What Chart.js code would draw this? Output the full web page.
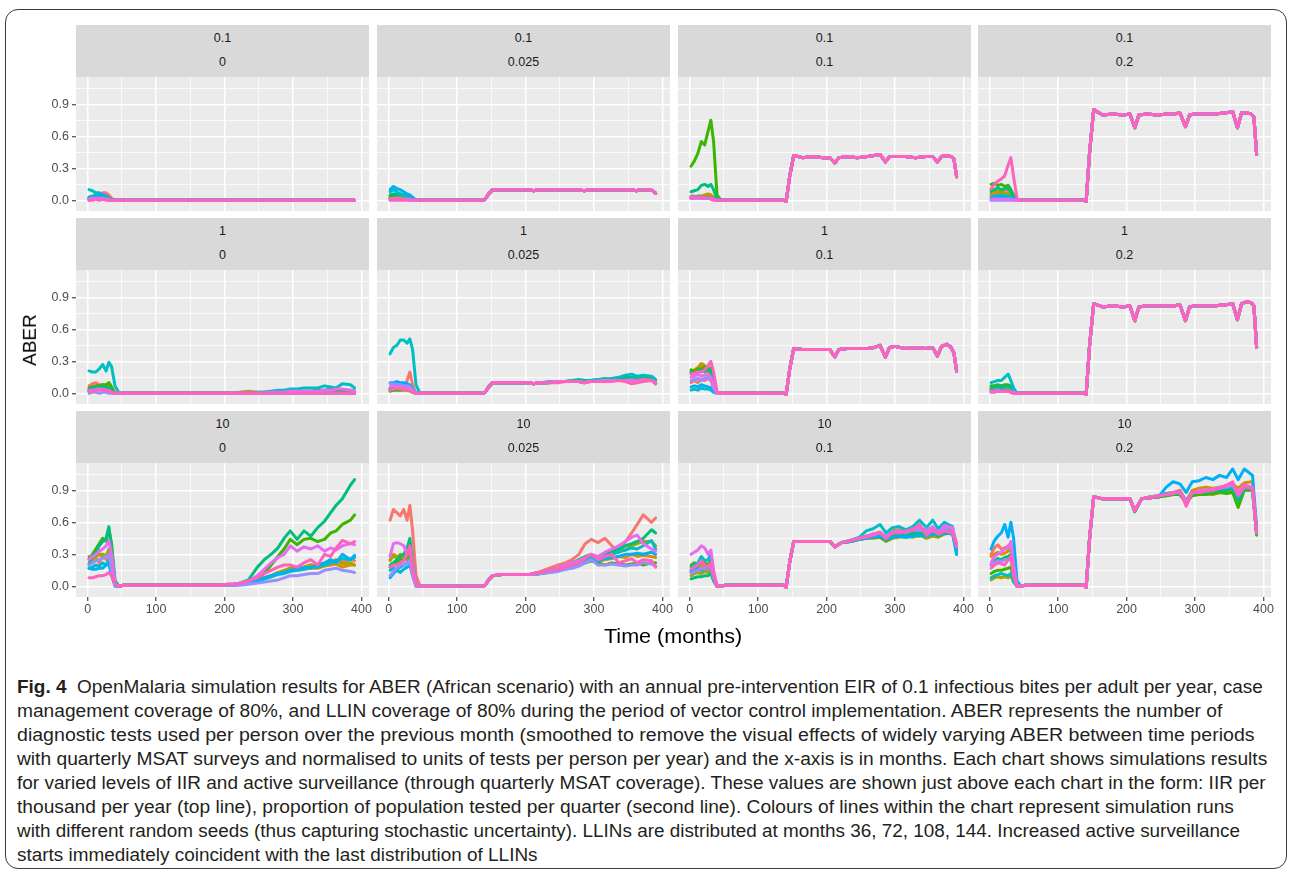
<!DOCTYPE html>
<html>
<head>
<meta charset="utf-8">
<script src="https://cdn.jsdelivr.net/npm/chart.js@4.4.0/dist/chart.umd.min.js"></script>
<style>
  body { margin: 0; background: #fff; width: 1290px; height: 873px; overflow: hidden; position: relative;
         font-family: "Liberation Sans", Arial, sans-serif; }
  #frame { position: absolute; left: 5px; top: 9px; width: 1280px; height: 858px;
           border: 1.4px solid #3c3c3c; border-radius: 13px; }
  .strip { position: absolute; background: #d9d9d9; color: #1a1a1a; font-size: 12.5px; }
  .strip div { position: absolute; left: 0; right: 0; text-align: center; line-height: 14px; }
  canvas.panel { position: absolute; }
  .axtitle { position: absolute; font-size: 19px; color: #000; white-space: nowrap; }
  .cap { position: absolute; left: 17px; font-size: 17.5px; color: #231f20; white-space: nowrap;
         line-height: 20px; transform-origin: 0 50%; }
</style>
</head>
<body>
<div id="frame"></div>
<div id="figure"></div>
<script>
// ggplot hue palette, one colour per random seed
const seedColors = ["#F8766D", "#D89000", "#A3A500", "#39B600", "#00BF7D",
                    "#00BFC4", "#00B0F6", "#9590FF", "#E76BF3", "#FF62BC"];
const iirLevels = ["0.1", "1", "10"];
const msatLevels = ["0", "0.025", "0.1", "0.2"];
const xTicks = [0, 100, 200, 300, 400];
const yTicks = [0.0, 0.3, 0.6, 0.9];

// months sampled for each phase
const earlyMonths = [2, 7, 12, 17, 22, 27, 31, 35, 40, 46];
const mainMonths = [52, 100, 138, 141, 146, 152, 165, 180, 195, 205, 212, 218, 230, 245, 260,
                    270, 278, 286, 292, 300, 315, 330, 345, 355, 362, 368, 376, 382, 386, 390];
const lateMonths = [205, 212, 222, 235, 248, 258, 268, 278, 287, 296, 306, 316, 326, 336, 346,
                    355, 363, 372, 384, 390];

// ---- IIR 0.1 ----
const earlyR1C1 = [
  [0.02, 0.03, 0.04, 0.05, 0.07, 0.07, 0.05, 0.02, 0, 0],
  [0.01, 0.02, 0.02, 0.03, 0.04, 0.04, 0.03, 0.01, 0, 0],
  [0.01, 0.01, 0.02, 0.02, 0.03, 0.02, 0.02, 0.01, 0, 0],
  [0.02, 0.02, 0.03, 0.03, 0.02, 0.02, 0.01, 0, 0, 0],
  [0.03, 0.04, 0.05, 0.04, 0.05, 0.03, 0.02, 0.01, 0, 0],
  [0.1, 0.09, 0.07, 0.07, 0.05, 0.04, 0.02, 0.01, 0, 0],
  [0.03, 0.03, 0.04, 0.06, 0.05, 0.04, 0.02, 0, 0, 0],
  [0, 0.01, 0.01, 0.01, 0.01, 0.01, 0, 0, 0, 0],
  [0.01, 0.02, 0.02, 0.02, 0.02, 0.01, 0.01, 0, 0, 0],
  [0, 0, 0.01, 0, 0.01, 0, 0, 0, 0, 0]
];
const mainR1C1 = [0, 0, 0, 0, 0, 0, 0, 0, 0, 0, 0, 0, 0, 0, 0,
                  0, 0, 0, 0, 0, 0, 0, 0, 0, 0, 0, 0, 0, 0, 0];

const earlyR1C2 = [
  [0.02, 0.03, 0.02, 0.03, 0.03, 0.02, 0.01, 0, 0, 0],
  [0.03, 0.03, 0.04, 0.03, 0.03, 0.02, 0.02, 0.01, 0, 0],
  [0.02, 0.03, 0.03, 0.03, 0.02, 0.02, 0.01, 0, 0, 0],
  [0.04, 0.05, 0.05, 0.06, 0.05, 0.04, 0.04, 0.01, 0, 0],
  [0.05, 0.06, 0.06, 0.05, 0.05, 0.05, 0.04, 0.02, 0, 0],
  [0.08, 0.1, 0.08, 0.06, 0.05, 0.04, 0.03, 0.01, 0, 0],
  [0.1, 0.13, 0.11, 0.1, 0.08, 0.06, 0.05, 0.03, 0, 0],
  [0.01, 0.01, 0.01, 0.01, 0.01, 0.01, 0, 0, 0, 0],
  [0.01, 0.02, 0.02, 0.01, 0.01, 0.01, 0.01, 0, 0, 0],
  [0, 0, 0, 0, 0, 0, 0, 0, 0, 0]
];
const mainR1C2 = [0, 0, 0, 0.01, 0.06, 0.1, 0.1, 0.1, 0.1, 0.1, 0.09, 0.1, 0.1, 0.1, 0.1,
                  0.1, 0.1, 0.09, 0.1, 0.1, 0.1, 0.1, 0.1, 0.1, 0.09, 0.1, 0.1, 0.1, 0.09, 0.065];

const earlyR1C3 = [
  [0.04, 0.04, 0.03, 0.04, 0.03, 0.03, 0.03, 0.01, 0, 0],
  [0.03, 0.03, 0.04, 0.04, 0.05, 0.06, 0.05, 0.03, 0, 0],
  [0.02, 0.03, 0.03, 0.03, 0.04, 0.04, 0.03, 0.01, 0, 0],
  [0.32, 0.37, 0.44, 0.55, 0.52, 0.65, 0.75, 0.55, 0.05, 0],
  [0.08, 0.09, 0.1, 0.14, 0.15, 0.13, 0.15, 0.1, 0.01, 0],
  [0.03, 0.03, 0.04, 0.03, 0.03, 0.03, 0.02, 0.01, 0, 0],
  [0.02, 0.02, 0.03, 0.02, 0.02, 0.02, 0.02, 0.01, 0, 0],
  [0.03, 0.03, 0.02, 0.02, 0.02, 0.02, 0.02, 0.01, 0, 0],
  [0.02, 0.02, 0.02, 0.02, 0.02, 0.02, 0.01, 0, 0, 0],
  [0.03, 0.03, 0.03, 0.03, 0.02, 0.02, 0.02, 0.01, 0, 0]
];
const mainR1C3 = [0, 0, 0, -0.01, 0.22, 0.42, 0.4, 0.41, 0.4, 0.4, 0.35, 0.4, 0.41, 0.4, 0.41,
                  0.42, 0.43, 0.36, 0.41, 0.41, 0.41, 0.4, 0.41, 0.41, 0.36, 0.41, 0.42, 0.41, 0.39, 0.22];

const earlyR1C4 = [
  [0.06, 0.07, 0.08, 0.08, 0.1, 0.09, 0.06, 0.02, 0, 0],
  [0.05, 0.05, 0.06, 0.06, 0.05, 0.05, 0.04, 0.01, 0, 0],
  [0.1, 0.1, 0.08, 0.09, 0.07, 0.06, 0.04, 0.01, 0, 0],
  [0.15, 0.16, 0.14, 0.15, 0.13, 0.14, 0.1, 0.05, 0, 0],
  [0.08, 0.1, 0.12, 0.1, 0.11, 0.12, 0.08, 0.03, 0, 0],
  [0.03, 0.04, 0.04, 0.05, 0.04, 0.04, 0.03, 0.01, 0, 0],
  [0.02, 0.02, 0.03, 0.03, 0.03, 0.02, 0.02, 0.01, 0, 0],
  [0, 0, 0, 0, 0, 0, 0, 0, 0, 0],
  [0.01, 0.01, 0.01, 0.01, 0.01, 0.01, 0.01, 0, 0, 0],
  [0.11, 0.15, 0.18, 0.2, 0.23, 0.33, 0.4, 0.22, 0.02, 0]
];
const mainR1C4 = [0, 0, 0, -0.01, 0.45, 0.85, 0.8, 0.81, 0.8, 0.81, 0.68, 0.8, 0.81, 0.8, 0.81,
                  0.81, 0.82, 0.69, 0.8, 0.81, 0.81, 0.81, 0.82, 0.83, 0.68, 0.82, 0.82, 0.81, 0.78, 0.43];

// ---- IIR 1 ----
const earlyR2C1 = [
  [0.07, 0.09, 0.1, 0.08, 0.08, 0.07, 0.06, 0.03, 0, 0],
  [0.03, 0.04, 0.04, 0.05, 0.05, 0.04, 0.04, 0.02, 0, 0],
  [0.03, 0.03, 0.04, 0.04, 0.03, 0.04, 0.03, 0.01, 0, 0],
  [0.05, 0.06, 0.07, 0.07, 0.08, 0.08, 0.1, 0.06, 0, 0],
  [0.04, 0.05, 0.06, 0.05, 0.06, 0.06, 0.05, 0.02, 0, 0],
  [0.21, 0.2, 0.2, 0.23, 0.27, 0.21, 0.29, 0.25, 0.07, 0],
  [0.02, 0.03, 0.03, 0.04, 0.03, 0.03, 0.02, 0.01, 0, 0],
  [0, 0.01, 0.01, 0, 0.01, 0.01, 0, 0, 0, 0],
  [0.03, 0.03, 0.04, 0.04, 0.04, 0.03, 0.03, 0.01, 0, 0],
  [0.02, 0.02, 0.03, 0.03, 0.03, 0.03, 0.02, 0.01, 0, 0]
];
const mainR2C1 = [0, 0, 0, 0, 0, 0, 0, 0, 0, 0, 0, 0, 0, 0, 0,
                  0, 0, 0, 0, 0, 0, 0, 0, 0, 0, 0, 0, 0, 0, 0];
const lateR2C1 = [
  null,
  [0, 0, 0.01, 0.02, 0.01, 0.01, 0.01, 0.01, 0.01, 0.01, 0.01, 0.01, 0.02, 0.02, 0.02, 0.02, 0.02, 0.02, 0.02, 0.02],
  null,
  [0, 0, 0, 0, 0, 0.01, 0.01, 0.01, 0.01, 0.02, 0.02, 0.02, 0.02, 0.03, 0.03, 0.04, 0.03, 0.02, 0.03, 0.02],
  null,
  [0, 0, 0, 0, 0.01, 0.01, 0.02, 0.03, 0.03, 0.04, 0.04, 0.05, 0.05, 0.05, 0.07, 0.06, 0.05, 0.09, 0.08, 0.05],
  null,
  null,
  [0, 0, 0, 0, 0, 0, 0.01, 0.01, 0.01, 0.02, 0.02, 0.02, 0.02, 0.02, 0.03, 0.03, 0.04, 0.04, 0.03, 0.02],
  null
];

const earlyR2C2 = [
  [0.05, 0.07, 0.08, 0.06, 0.05, 0.12, 0.2, 0.08, 0, 0],
  [0.04, 0.04, 0.05, 0.04, 0.04, 0.04, 0.03, 0.01, 0, 0],
  [0.03, 0.03, 0.04, 0.03, 0.03, 0.03, 0.02, 0.01, 0, 0],
  [0.02, 0.03, 0.03, 0.03, 0.04, 0.03, 0.03, 0.01, 0, 0],
  [0.04, 0.05, 0.05, 0.06, 0.05, 0.05, 0.04, 0.02, 0, 0],
  [0.37, 0.43, 0.45, 0.5, 0.5, 0.47, 0.51, 0.41, 0.08, 0],
  [0.1, 0.1, 0.11, 0.1, 0.1, 0.09, 0.08, 0.04, 0, 0],
  [0.09, 0.09, 0.08, 0.08, 0.07, 0.07, 0.06, 0.03, 0, 0],
  [0.06, 0.07, 0.06, 0.06, 0.05, 0.05, 0.04, 0.02, 0, 0],
  [0.03, 0.04, 0.05, 0.04, 0.04, 0.03, 0.03, 0.01, 0, 0]
];
const mainR2C2 = [0, 0, 0, 0.01, 0.06, 0.1, 0.1, 0.1, 0.1, 0.1, 0.09, 0.1, 0.1, 0.11, 0.11,
                  0.11, 0.11, 0.1, 0.11, 0.11, 0.12, 0.12, 0.12, 0.12, 0.11, 0.12, 0.12, 0.12, 0.12, 0.09];
const lateR2C2 = [
  [0.1, 0.09, 0.1, 0.1, 0.11, 0.11, 0.11, 0.11, 0.11, 0.12, 0.12, 0.12, 0.12, 0.13, 0.13, 0.12, 0.13, 0.14, 0.13, 0.1],
  null, null, null,
  [0.1, 0.09, 0.1, 0.1, 0.11, 0.11, 0.12, 0.13, 0.12, 0.12, 0.13, 0.14, 0.13, 0.14, 0.15, 0.15, 0.15, 0.16, 0.15, 0.12],
  [0.1, 0.09, 0.1, 0.11, 0.11, 0.11, 0.12, 0.12, 0.11, 0.12, 0.13, 0.13, 0.14, 0.15, 0.17, 0.18, 0.16, 0.17, 0.16, 0.13],
  null, null, null,
  [0.1, 0.09, 0.1, 0.1, 0.1, 0.11, 0.11, 0.11, 0.1, 0.11, 0.11, 0.11, 0.11, 0.12, 0.11, 0.09, 0.1, 0.11, 0.12, 0.09]
];

const earlyR2C3 = [
  [0.1, 0.12, 0.1, 0.13, 0.12, 0.14, 0.12, 0.05, 0, 0],
  [0.2, 0.22, 0.24, 0.28, 0.26, 0.22, 0.2, 0.1, 0, 0],
  [0.18, 0.2, 0.22, 0.25, 0.24, 0.2, 0.2, 0.08, 0, 0],
  [0.22, 0.2, 0.23, 0.22, 0.25, 0.22, 0.24, 0.1, 0, 0],
  [0.2, 0.18, 0.2, 0.22, 0.2, 0.23, 0.21, 0.1, 0, 0],
  [0.03, 0.04, 0.03, 0.05, 0.04, 0.04, 0.03, 0.01, 0, 0],
  [0.06, 0.07, 0.06, 0.08, 0.07, 0.06, 0.05, 0.02, 0, 0],
  [0.12, 0.13, 0.14, 0.12, 0.14, 0.15, 0.13, 0.05, 0, 0],
  [0.15, 0.16, 0.18, 0.16, 0.17, 0.18, 0.15, 0.07, 0, 0],
  [0.18, 0.19, 0.2, 0.2, 0.22, 0.26, 0.3, 0.2, 0.02, 0]
];
const mainR2C3 = [0, 0, 0, -0.01, 0.22, 0.42, 0.41, 0.41, 0.41, 0.41, 0.34, 0.41, 0.42, 0.42, 0.42,
                  0.43, 0.45, 0.34, 0.43, 0.44, 0.42, 0.43, 0.42, 0.43, 0.35, 0.44, 0.46, 0.43, 0.38, 0.21];

const earlyR2C4 = [
  [0.05, 0.05, 0.06, 0.06, 0.05, 0.06, 0.05, 0.02, 0, 0],
  [0.04, 0.05, 0.04, 0.05, 0.04, 0.04, 0.03, 0.01, 0, 0],
  [0.04, 0.04, 0.05, 0.04, 0.05, 0.05, 0.04, 0.01, 0, 0],
  [0.07, 0.07, 0.08, 0.07, 0.08, 0.08, 0.07, 0.03, 0, 0],
  [0.06, 0.06, 0.07, 0.06, 0.07, 0.07, 0.06, 0.02, 0, 0],
  [0.1, 0.11, 0.12, 0.12, 0.15, 0.18, 0.12, 0.05, 0, 0],
  [0.03, 0.03, 0.03, 0.04, 0.03, 0.03, 0.02, 0.01, 0, 0],
  [0.02, 0.02, 0.03, 0.02, 0.02, 0.02, 0.02, 0.01, 0, 0],
  [0.02, 0.02, 0.02, 0.02, 0.02, 0.02, 0.01, 0, 0, 0],
  [0.01, 0.01, 0.02, 0.02, 0.02, 0.02, 0.01, 0, 0, 0]
];
const mainR2C4 = [0, 0, 0, -0.01, 0.45, 0.84, 0.81, 0.82, 0.81, 0.82, 0.68, 0.81, 0.82, 0.82, 0.82,
                  0.82, 0.83, 0.68, 0.81, 0.82, 0.82, 0.82, 0.83, 0.84, 0.69, 0.84, 0.86, 0.85, 0.82, 0.43];

// ---- IIR 10 ----
const earlyR3C1 = [
  [0.28, 0.25, 0.27, 0.22, 0.3, 0.25, 0.3, 0.15, 0.01, 0],
  [0.22, 0.25, 0.28, 0.3, 0.28, 0.3, 0.32, 0.2, 0.02, 0],
  [0.25, 0.27, 0.28, 0.3, 0.3, 0.28, 0.35, 0.2, 0.02, 0],
  [0.26, 0.3, 0.35, 0.4, 0.45, 0.42, 0.54, 0.4, 0.05, 0],
  [0.2, 0.28, 0.32, 0.38, 0.42, 0.45, 0.56, 0.35, 0.05, 0],
  [0.17, 0.18, 0.2, 0.19, 0.22, 0.2, 0.25, 0.15, 0.01, 0],
  [0.17, 0.16, 0.16, 0.17, 0.17, 0.2, 0.21, 0.1, 0, 0],
  [0.2, 0.22, 0.24, 0.25, 0.26, 0.28, 0.3, 0.15, 0.01, 0],
  [0.25, 0.28, 0.3, 0.33, 0.35, 0.38, 0.43, 0.3, 0.03, 0],
  [0.08, 0.08, 0.09, 0.1, 0.1, 0.11, 0.13, 0.1, 0.02, 0]
];
const mainR3C1 = [0.01, 0.01, 0.01, 0.01, 0.01, 0.01, 0.01, 0.01, 0.01, 0.02, 0.02, 0.02, 0.03, 0.05, 0.1,
                  0.13, 0.16, 0.18, 0.2, 0.2, 0.2, 0.24, 0.28, 0.3, 0.34, 0.4, 0.42, 0.4, 0.41, 0.42];
const lateR3C1 = [
  [0.01, 0.01, 0.02, 0.03, 0.05, 0.07, 0.1, 0.12, 0.14, 0.17, 0.16, 0.18, 0.2, 0.19, 0.21, 0.22, 0.24, 0.23, 0.25, 0.24],
  [0.01, 0.01, 0.02, 0.03, 0.04, 0.07, 0.09, 0.12, 0.13, 0.15, 0.15, 0.16, 0.17, 0.17, 0.19, 0.2, 0.21, 0.18, 0.2, 0.2],
  [0.01, 0.01, 0.02, 0.03, 0.05, 0.08, 0.1, 0.13, 0.15, 0.17, 0.16, 0.18, 0.2, 0.19, 0.2, 0.22, 0.25, 0.21, 0.22, 0.2],
  [0.01, 0.01, 0.02, 0.03, 0.06, 0.12, 0.2, 0.28, 0.35, 0.44, 0.39, 0.44, 0.45, 0.42, 0.44, 0.5, 0.52, 0.58, 0.62, 0.67],
  [0.02, 0.02, 0.03, 0.06, 0.18, 0.25, 0.3, 0.36, 0.45, 0.52, 0.44, 0.52, 0.47, 0.55, 0.61, 0.69, 0.76, 0.82, 0.95, 1.0],
  [0.01, 0.01, 0.02, 0.03, 0.04, 0.07, 0.09, 0.11, 0.12, 0.14, 0.15, 0.16, 0.18, 0.18, 0.2, 0.22, 0.24, 0.26, 0.25, 0.27],
  [0.01, 0.01, 0.02, 0.03, 0.05, 0.08, 0.1, 0.12, 0.13, 0.15, 0.16, 0.18, 0.17, 0.2, 0.22, 0.25, 0.22, 0.3, 0.25, 0.29],
  [0.01, 0.01, 0.01, 0.02, 0.03, 0.04, 0.05, 0.06, 0.08, 0.1, 0.1, 0.11, 0.12, 0.12, 0.15, 0.16, 0.17, 0.15, 0.14, 0.13],
  [0.02, 0.02, 0.03, 0.05, 0.1, 0.16, 0.22, 0.27, 0.3, 0.38, 0.33, 0.37, 0.35, 0.38, 0.33, 0.36, 0.34, 0.38, 0.4, 0.39],
  [0.02, 0.02, 0.03, 0.05, 0.08, 0.12, 0.15, 0.18, 0.2, 0.2, 0.18, 0.22, 0.25, 0.2, 0.3, 0.28, 0.36, 0.43, 0.4, 0.42]
];

const earlyR3C2 = [
  [0.62, 0.72, 0.69, 0.66, 0.72, 0.62, 0.76, 0.52, 0.1, 0],
  [0.24, 0.3, 0.28, 0.27, 0.26, 0.25, 0.28, 0.14, 0.01, 0],
  [0.25, 0.28, 0.27, 0.3, 0.28, 0.26, 0.3, 0.15, 0.01, 0],
  [0.18, 0.2, 0.22, 0.25, 0.24, 0.28, 0.3, 0.15, 0.01, 0],
  [0.2, 0.22, 0.25, 0.28, 0.3, 0.36, 0.45, 0.22, 0.02, 0],
  [0.15, 0.17, 0.16, 0.18, 0.2, 0.22, 0.25, 0.12, 0.01, 0],
  [0.08, 0.12, 0.15, 0.13, 0.16, 0.18, 0.2, 0.1, 0, 0],
  [0.1, 0.14, 0.17, 0.2, 0.2, 0.22, 0.24, 0.1, 0, 0],
  [0.28, 0.4, 0.41, 0.4, 0.38, 0.3, 0.35, 0.2, 0.01, 0],
  [0.18, 0.2, 0.2, 0.22, 0.24, 0.3, 0.38, 0.15, 0.02, 0]
];
const mainR3C2 = [0, 0, 0, 0.01, 0.06, 0.1, 0.11, 0.11, 0.11, 0.11, 0.12, 0.12, 0.14, 0.16, 0.18,
                  0.2, 0.22, 0.26, 0.28, 0.3, 0.25, 0.28, 0.22, 0.25, 0.26, 0.22, 0.24, 0.24, 0.22, 0.18];
const lateR3C2 = [
  [0.11, 0.12, 0.14, 0.17, 0.2, 0.22, 0.25, 0.3, 0.4, 0.44, 0.41, 0.45, 0.38, 0.32, 0.42, 0.5, 0.58, 0.67, 0.6, 0.64],
  [0.11, 0.11, 0.12, 0.14, 0.15, 0.17, 0.19, 0.21, 0.22, 0.24, 0.23, 0.25, 0.26, 0.28, 0.27, 0.3, 0.28, 0.29, 0.28, 0.27],
  [0.11, 0.12, 0.13, 0.14, 0.16, 0.18, 0.2, 0.22, 0.25, 0.28, 0.26, 0.3, 0.32, 0.35, 0.34, 0.38, 0.4, 0.42, 0.42, 0.38],
  [0.11, 0.11, 0.12, 0.13, 0.15, 0.16, 0.18, 0.2, 0.22, 0.24, 0.22, 0.2, 0.22, 0.21, 0.2, 0.21, 0.22, 0.2, 0.22, 0.22],
  [0.11, 0.12, 0.13, 0.15, 0.17, 0.19, 0.22, 0.25, 0.28, 0.3, 0.27, 0.3, 0.32, 0.35, 0.38, 0.4, 0.42, 0.45, 0.53, 0.5],
  [0.11, 0.12, 0.13, 0.14, 0.16, 0.18, 0.2, 0.22, 0.25, 0.27, 0.26, 0.28, 0.3, 0.32, 0.34, 0.36, 0.35, 0.38, 0.43, 0.35],
  [0.11, 0.11, 0.12, 0.14, 0.15, 0.17, 0.19, 0.21, 0.23, 0.25, 0.24, 0.26, 0.27, 0.28, 0.3, 0.3, 0.31, 0.3, 0.32, 0.3],
  [0.11, 0.11, 0.12, 0.13, 0.14, 0.16, 0.17, 0.19, 0.22, 0.25, 0.2, 0.2, 0.21, 0.2, 0.19, 0.2, 0.2, 0.22, 0.21, 0.19],
  [0.11, 0.12, 0.13, 0.15, 0.17, 0.2, 0.22, 0.24, 0.27, 0.3, 0.28, 0.32, 0.35, 0.38, 0.42, 0.46, 0.48, 0.4, 0.35, 0.33],
  [0.11, 0.12, 0.13, 0.15, 0.16, 0.18, 0.2, 0.22, 0.26, 0.3, 0.25, 0.28, 0.3, 0.22, 0.24, 0.26, 0.22, 0.25, 0.24, 0.18]
];

const earlyR3C3 = [
  [0.13, 0.15, 0.16, 0.18, 0.17, 0.16, 0.17, 0.07, 0, 0],
  [0.15, 0.17, 0.18, 0.2, 0.19, 0.18, 0.2, 0.08, 0, 0],
  [0.1, 0.12, 0.13, 0.12, 0.14, 0.13, 0.15, 0.06, 0, 0],
  [0.2, 0.22, 0.2, 0.24, 0.22, 0.2, 0.25, 0.1, 0, 0],
  [0.07, 0.08, 0.09, 0.09, 0.1, 0.1, 0.12, 0.05, 0, 0],
  [0.18, 0.2, 0.22, 0.28, 0.24, 0.25, 0.3, 0.12, 0, 0],
  [0.14, 0.15, 0.17, 0.15, 0.16, 0.17, 0.18, 0.08, 0, 0],
  [0.12, 0.14, 0.15, 0.17, 0.16, 0.18, 0.19, 0.08, 0, 0],
  [0.3, 0.32, 0.34, 0.38, 0.36, 0.3, 0.34, 0.15, 0.01, 0],
  [0.16, 0.18, 0.2, 0.24, 0.2, 0.18, 0.22, 0.1, 0, 0]
];
const mainR3C3 = [0.01, 0.01, 0.01, -0.01, 0.22, 0.42, 0.42, 0.42, 0.42, 0.42, 0.37, 0.41, 0.42, 0.44, 0.46,
                  0.48, 0.5, 0.45, 0.48, 0.5, 0.52, 0.53, 0.5, 0.53, 0.49, 0.52, 0.5, 0.5, 0.48, 0.38];
const lateR3C3 = [
  [0.42, 0.37, 0.41, 0.43, 0.45, 0.46, 0.47, 0.48, 0.45, 0.49, 0.5, 0.5, 0.51, 0.52, 0.51, 0.53, 0.5, 0.54, 0.52, 0.36],
  [0.42, 0.37, 0.41, 0.43, 0.45, 0.47, 0.48, 0.5, 0.46, 0.52, 0.53, 0.52, 0.55, 0.54, 0.53, 0.55, 0.52, 0.56, 0.54, 0.4],
  [0.42, 0.37, 0.41, 0.42, 0.44, 0.45, 0.45, 0.46, 0.42, 0.45, 0.46, 0.47, 0.46, 0.48, 0.45, 0.47, 0.46, 0.49, 0.5, 0.34],
  [0.42, 0.37, 0.41, 0.42, 0.44, 0.45, 0.46, 0.46, 0.43, 0.46, 0.47, 0.46, 0.48, 0.47, 0.49, 0.5, 0.47, 0.5, 0.51, 0.35],
  [0.42, 0.37, 0.41, 0.42, 0.44, 0.45, 0.47, 0.48, 0.44, 0.48, 0.49, 0.48, 0.5, 0.5, 0.52, 0.5, 0.49, 0.52, 0.5, 0.34],
  [0.42, 0.37, 0.41, 0.43, 0.46, 0.52, 0.54, 0.58, 0.5, 0.55, 0.56, 0.53, 0.56, 0.62, 0.55, 0.62, 0.54, 0.6, 0.56, 0.3],
  [0.42, 0.37, 0.41, 0.42, 0.44, 0.45, 0.46, 0.47, 0.44, 0.46, 0.47, 0.46, 0.47, 0.48, 0.47, 0.49, 0.48, 0.5, 0.49, 0.3],
  [0.42, 0.37, 0.41, 0.43, 0.45, 0.47, 0.49, 0.5, 0.47, 0.51, 0.52, 0.5, 0.53, 0.52, 0.54, 0.52, 0.5, 0.55, 0.54, 0.38],
  [0.42, 0.37, 0.41, 0.43, 0.45, 0.47, 0.49, 0.51, 0.46, 0.5, 0.52, 0.51, 0.54, 0.55, 0.5, 0.56, 0.5, 0.57, 0.55, 0.37],
  [0.42, 0.37, 0.41, 0.43, 0.45, 0.46, 0.48, 0.5, 0.45, 0.5, 0.5, 0.52, 0.53, 0.58, 0.48, 0.53, 0.49, 0.52, 0.5, 0.38]
];

const earlyR3C4 = [
  [0.3, 0.36, 0.39, 0.35, 0.36, 0.38, 0.36, 0.2, 0.01, 0],
  [0.28, 0.3, 0.32, 0.3, 0.31, 0.33, 0.35, 0.15, 0, 0],
  [0.06, 0.08, 0.09, 0.08, 0.09, 0.08, 0.1, 0.04, 0, 0],
  [0.12, 0.14, 0.15, 0.15, 0.16, 0.17, 0.18, 0.08, 0, 0],
  [0.2, 0.24, 0.26, 0.25, 0.27, 0.28, 0.3, 0.12, 0, 0],
  [0.08, 0.1, 0.11, 0.12, 0.11, 0.1, 0.12, 0.05, 0, 0],
  [0.35, 0.43, 0.47, 0.5, 0.58, 0.46, 0.6, 0.45, 0.05, 0],
  [0.2, 0.22, 0.24, 0.23, 0.25, 0.24, 0.28, 0.12, 0, 0],
  [0.22, 0.28, 0.3, 0.32, 0.35, 0.36, 0.42, 0.2, 0.01, 0],
  [0.17, 0.2, 0.22, 0.21, 0.2, 0.25, 0.28, 0.1, 0, 0]
];
const mainR3C4 = [0.01, 0.01, 0.01, -0.01, 0.45, 0.84, 0.82, 0.82, 0.82, 0.82, 0.71, 0.82, 0.83, 0.85, 0.86,
                  0.87, 0.9, 0.75, 0.88, 0.88, 0.89, 0.9, 0.92, 0.95, 0.98, 0.85, 0.93, 0.92, 0.88, 0.5];
const lateR3C4 = [
  [0.82, 0.71, 0.82, 0.83, 0.84, 0.86, 0.87, 0.88, 0.8, 0.87, 0.88, 0.89, 0.9, 0.91, 0.92, 0.94, 0.86, 0.94, 0.92, 0.5],
  [0.82, 0.7, 0.82, 0.84, 0.85, 0.87, 0.88, 0.9, 0.8, 0.9, 0.92, 0.93, 0.92, 0.93, 0.94, 0.96, 0.92, 0.97, 0.98, 0.52],
  [0.82, 0.7, 0.82, 0.83, 0.84, 0.85, 0.86, 0.86, 0.79, 0.86, 0.86, 0.87, 0.86, 0.88, 0.88, 0.9, 0.82, 0.91, 0.9, 0.49],
  [0.82, 0.7, 0.82, 0.83, 0.84, 0.85, 0.86, 0.86, 0.78, 0.85, 0.86, 0.86, 0.87, 0.88, 0.87, 0.88, 0.74, 0.9, 0.9, 0.48],
  [0.82, 0.71, 0.82, 0.83, 0.84, 0.86, 0.87, 0.87, 0.78, 0.87, 0.88, 0.88, 0.89, 0.9, 0.9, 0.92, 0.8, 0.92, 0.91, 0.49],
  [0.82, 0.71, 0.82, 0.83, 0.85, 0.87, 0.88, 0.88, 0.8, 0.88, 0.89, 0.9, 0.9, 0.92, 0.92, 0.94, 0.84, 0.93, 0.92, 0.5],
  [0.82, 0.7, 0.82, 0.84, 0.85, 0.93, 0.98, 0.96, 0.88, 0.98, 0.99, 1.02, 1.0, 1.04, 1.02, 1.1, 1.0, 1.1, 1.04, 0.55],
  [0.82, 0.71, 0.82, 0.83, 0.85, 0.86, 0.87, 0.88, 0.78, 0.88, 0.88, 0.9, 0.9, 0.92, 0.93, 0.95, 0.85, 0.94, 0.92, 0.5],
  [0.82, 0.71, 0.82, 0.84, 0.85, 0.86, 0.88, 0.89, 0.79, 0.88, 0.9, 0.9, 0.91, 0.93, 0.94, 0.96, 0.88, 0.95, 0.93, 0.52],
  [0.82, 0.71, 0.82, 0.83, 0.85, 0.86, 0.87, 0.9, 0.75, 0.88, 0.88, 0.89, 0.9, 0.92, 0.95, 0.98, 0.85, 0.93, 0.92, 0.5]
];

const panels = [
  [ { early: earlyR1C1, main: mainR1C1, late: null },
    { early: earlyR1C2, main: mainR1C2, late: null },
    { early: earlyR1C3, main: mainR1C3, late: null },
    { early: earlyR1C4, main: mainR1C4, late: null } ],
  [ { early: earlyR2C1, main: mainR2C1, late: lateR2C1 },
    { early: earlyR2C2, main: mainR2C2, late: lateR2C2 },
    { early: earlyR2C3, main: mainR2C3, late: null },
    { early: earlyR2C4, main: mainR2C4, late: null } ],
  [ { early: earlyR3C1, main: mainR3C1, late: lateR3C1 },
    { early: earlyR3C2, main: mainR3C2, late: lateR3C2 },
    { early: earlyR3C3, main: mainR3C3, late: lateR3C3 },
    { early: earlyR3C4, main: mainR3C4, late: lateR3C4 } ]
];

const captionLines = [
  "<b>Fig. 4</b>&nbsp; OpenMalaria simulation results for ABER (African scenario) with an annual pre-intervention EIR of 0.1 infectious bites per adult per year, case",
  "management coverage of 80%, and LLIN coverage of 80% during the period of vector control implementation. ABER represents the number of",
  "diagnostic tests used per person over the previous month (smoothed to remove the visual effects of widely varying ABER between time periods",
  "with quarterly MSAT surveys and normalised to units of tests per person per year) and the x-axis is in months. Each chart shows simulations results",
  "for varied levels of IIR and active surveillance (through quarterly MSAT coverage). These values are shown just above each chart in the form: IIR per",
  "thousand per year (top line), proportion of population tested per quarter (second line). Colours of lines within the chart represent simulation runs",
  "with different random seeds (thus capturing stochastic uncertainty). LLINs are distributed at months 36, 72, 108, 144. Increased active surveillance",
  "starts immediately coincident with the last distribution of LLINs"
];
const captionEnds = [1263, 1222, 1255, 1267, 1266, 1234, 1240, 537];

// ---- layout ----
const plotLeft = [76, 377, 678, 978];
const plotTop = [77, 270, 463];
const plotW = 293, plotH = 134, stripH = 52;
const yAxisW = 60, xAxisH = 30, rightPad = 14;
const xGrid = [0, 50, 100, 150, 200, 250, 300, 350, 400];
const yGrid = [0, 0.15, 0.3, 0.45, 0.6, 0.75, 0.9, 1.05];
const fontFamily = '"Liberation Sans", Arial, Helvetica, sans-serif';
Chart.defaults.font.family = fontFamily;

function buildSeries(p, s) {
  const pts = [];
  earlyMonths.forEach((m, i) => pts.push({ x: m, y: p.early[s][i] }));
  const late = p.late ? p.late[s] : null;
  mainMonths.forEach((m, i) => {
    if (!late || m < lateMonths[0]) pts.push({ x: m, y: p.main[i] });
  });
  if (late) lateMonths.forEach((m, i) => pts.push({ x: m, y: late[i] }));
  return pts;
}

const panelBg = {
  id: 'panelBg',
  beforeDraw(chart) {
    const a = chart.chartArea, ctx = chart.ctx;
    ctx.save();
    ctx.fillStyle = '#ebebeb';
    ctx.fillRect(a.left, a.top, a.right - a.left, a.bottom - a.top);
    ctx.restore();
  }
};

const isMajor = (v, list) => list.some(t => Math.abs(t - v) < 1e-6);
const fig = document.getElementById('figure');

for (let r = 0; r < 3; r++) {
  for (let c = 0; c < 4; c++) {
    const strip = document.createElement('div');
    strip.className = 'strip';
    strip.style.left = plotLeft[c] + 'px';
    strip.style.top = (plotTop[r] - stripH) + 'px';
    strip.style.width = plotW + 'px';
    strip.style.height = stripH + 'px';
    strip.innerHTML = '<div style="top:6px">' + iirLevels[r] + '</div><div style="top:30px">' + msatLevels[c] + '</div>';
    fig.appendChild(strip);

    const leftAxis = c === 0, bottomAxis = r === 2;
    const cv = document.createElement('canvas');
    cv.className = 'panel';
    const w = plotW + (leftAxis ? yAxisW : 0) + (bottomAxis ? rightPad : 0);
    const h = plotH + (bottomAxis ? xAxisH : 0);
    cv.width = w; cv.height = h;
    cv.style.left = (plotLeft[c] - (leftAxis ? yAxisW : 0)) + 'px';
    cv.style.top = plotTop[r] + 'px';
    cv.style.width = w + 'px'; cv.style.height = h + 'px';
    fig.appendChild(cv);

    const p = panels[r][c];
    new Chart(cv, {
      type: 'line',
      data: {
        datasets: seedColors.map((col, s) => ({
          data: buildSeries(p, s),
          borderColor: col,
          borderWidth: 3,
          pointRadius: 0,
          tension: 0,
          borderJoinStyle: 'round',
          borderCapStyle: 'round',
          order: seedColors.length - 1 - s
        }))
      },
      options: {
        responsive: false,
        animation: false,
        devicePixelRatio: 1,
        events: [],
        layout: { padding: { left: 0, top: 0, bottom: 0, right: bottomAxis ? rightPad : 0 } },
        plugins: { legend: { display: false }, tooltip: { enabled: false } },
        scales: {
          x: {
            type: 'linear', min: -17, max: 411,
            afterBuildTicks: sc => { sc.ticks = xGrid.map(v => ({ value: v })); },
            afterFit: sc => {
              sc.height = bottomAxis ? xAxisH : 0;
              sc.paddingLeft = 0; sc.paddingRight = 0;
            },
            border: { display: false },
            grid: {
              color: '#ffffff',
              lineWidth: ctx => isMajor(ctx.tick.value, xTicks) ? 1.5 : 0.75,
              drawTicks: bottomAxis,
              tickLength: 4,
              tickWidth: 1.1,
              tickColor: ctx => isMajor(ctx.tick.value, xTicks) ? '#333333' : 'rgba(0,0,0,0)'
            },
            ticks: {
              display: bottomAxis, autoSkip: false, maxRotation: 0, padding: 1,
              color: '#4d4d4d', font: { size: 12.5 },
              callback: v => isMajor(v, xTicks) ? String(v) : ''
            }
          },
          y: {
            type: 'linear', min: -0.1, max: 1.156,
            afterBuildTicks: sc => { sc.ticks = yGrid.map(v => ({ value: v })); },
            afterFit: sc => {
              sc.width = leftAxis ? yAxisW : 0;
              sc.paddingTop = 0; sc.paddingBottom = 0;
            },
            border: { display: false },
            grid: {
              color: '#ffffff',
              lineWidth: ctx => isMajor(ctx.tick.value, yTicks) ? 1.5 : 0.75,
              drawTicks: leftAxis,
              tickLength: 4,
              tickWidth: 1.1,
              tickColor: ctx => isMajor(ctx.tick.value, yTicks) ? '#333333' : 'rgba(0,0,0,0)'
            },
            ticks: {
              display: leftAxis, autoSkip: false, padding: 3,
              color: '#4d4d4d', font: { size: 12.5 },
              callback: v => isMajor(v, yTicks) ? v.toFixed(1) : ''
            }
          }
        }
      },
      plugins: [panelBg]
    });
  }
}

// axis titles
const yTitle = document.createElement('div');
yTitle.className = 'axtitle';
yTitle.textContent = 'ABER';
fig.appendChild(yTitle);
yTitle.style.left = (30 - yTitle.offsetWidth / 2) + 'px';
yTitle.style.top = (340 - yTitle.offsetHeight / 2) + 'px';
yTitle.style.transform = 'rotate(-90deg)';

const xTitle = document.createElement('div');
xTitle.className = 'axtitle';
xTitle.textContent = 'Time (months)';
xTitle.style.fontSize = '20px';
fig.appendChild(xTitle);
const xTitleScale = 138 / xTitle.offsetWidth;
xTitle.style.left = (673 - xTitle.offsetWidth / 2) + 'px';
xTitle.style.top = (636 - xTitle.offsetHeight / 2) + 'px';
xTitle.style.transform = 'scaleX(' + xTitleScale.toFixed(3) + ')';

// caption, one div per printed line
captionLines.forEach((txt, i) => {
  const d = document.createElement('div');
  d.className = 'cap';
  d.innerHTML = txt;
  d.style.top = (687 + i * 24 - 10) + 'px';
  fig.appendChild(d);
  const natural = d.offsetWidth;
  const target = captionEnds[i] - 17;
  d.style.transform = 'scaleX(' + (target / natural).toFixed(4) + ')';
});
</script>
</body>
</html>
